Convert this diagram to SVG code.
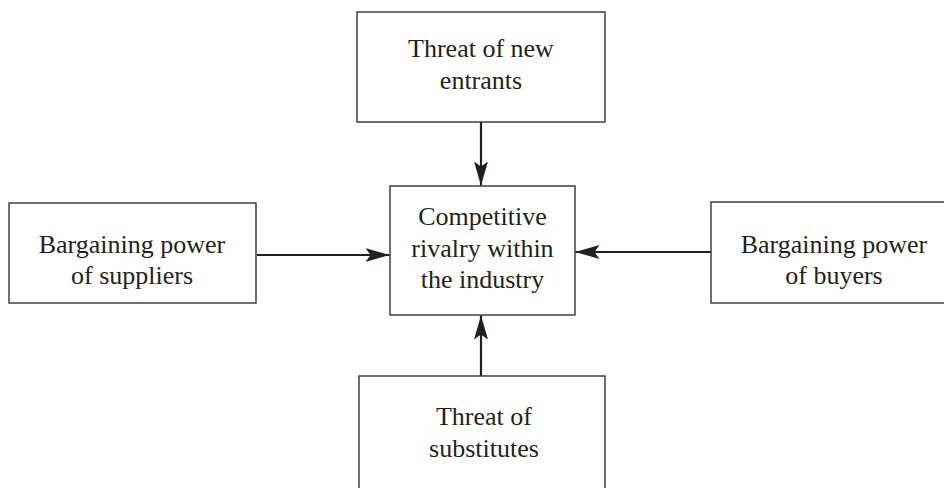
<svg xmlns="http://www.w3.org/2000/svg" width="944" height="488" viewBox="0 0 944 488">
<style>
.box{fill:#fff;stroke:#333;stroke-width:1.4}
.lbl{font-family:"Liberation Serif","Times New Roman",serif;font-size:26px;fill:#231f20;text-anchor:middle}
.conn{stroke:#231f20;stroke-width:2.2;fill:none}
</style>
<defs>
<marker id="ah" markerUnits="userSpaceOnUse" markerWidth="24" markerHeight="14" viewBox="0 0 24 14" refX="24" refY="7" orient="auto">
<path d="M0,0 L24,7 L0,14 L5,7 Z" fill="#231f20"/>
</marker>
</defs>
<rect width="944" height="488" fill="#fff"/>
<g id="connectors">
<line class="conn" x1="481" y1="122" x2="481" y2="185.5" marker-end="url(#ah)"/>
<line class="conn" x1="257" y1="255" x2="389.5" y2="255" marker-end="url(#ah)"/>
<line class="conn" x1="711" y1="252" x2="575.5" y2="252" marker-end="url(#ah)"/>
<line class="conn" x1="481" y1="376" x2="481" y2="315.5" marker-end="url(#ah)"/>
</g>
<g id="new-entrants">
<rect class="box" x="357" y="12" width="248" height="110"/>
<text class="lbl" x="481" y="57">Threat of new</text>
<text class="lbl" x="481" y="89">entrants</text>
</g>
<g id="rivalry">
<rect class="box" x="390" y="186" width="185" height="129"/>
<text class="lbl" x="482.5" y="225">Competitive</text>
<text class="lbl" x="482.5" y="257">rivalry within</text>
<text class="lbl" x="482.5" y="288">the industry</text>
</g>
<g id="suppliers">
<rect class="box" x="9" y="203" width="247" height="100"/>
<text class="lbl" x="132" y="253">Bargaining power</text>
<text class="lbl" x="132" y="284">of suppliers</text>
</g>
<g id="buyers">
<rect class="box" x="711" y="202" width="250" height="101"/>
<text class="lbl" x="834" y="253">Bargaining power</text>
<text class="lbl" x="834" y="284">of buyers</text>
</g>
<g id="substitutes">
<rect class="box" x="359" y="376" width="246" height="130"/>
<text class="lbl" x="484" y="425">Threat of</text>
<text class="lbl" x="484" y="457">substitutes</text>
</g>
</svg>
